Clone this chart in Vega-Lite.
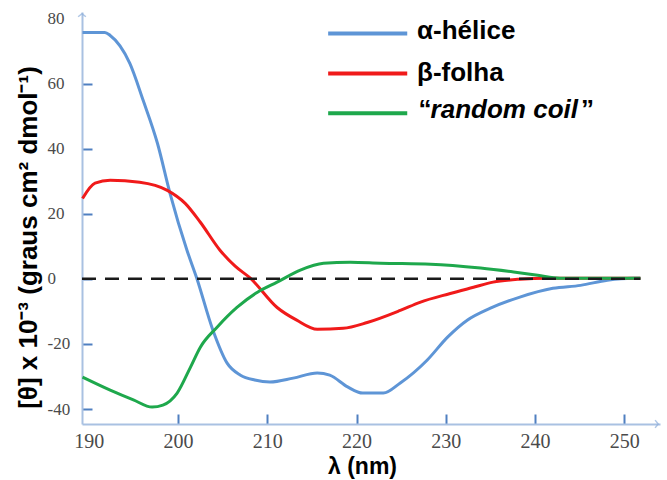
{
  "$schema": "https://vega.github.io/schema/vega-lite/v6.json",
  "width": 578,
  "height": 412,
  "autosize": {"type": "none"},
  "padding": {"left": 82, "top": 12, "right": 7, "bottom": 56},
  "background": "white",
  "config": {"view": {"stroke": null}, "axis": {"grid": false}},
  "datasets": {
    "one": [{}],
    "curves": [
      {"s": "α-hélice", "nm": 189.3, "v": 75.7},
      {"s": "α-hélice", "nm": 191.8, "v": 75.7},
      {"s": "α-hélice", "nm": 192.4, "v": 74.8},
      {"s": "α-hélice", "nm": 194.6, "v": 66.2},
      {"s": "α-hélice", "nm": 196.1, "v": 54.8},
      {"s": "α-hélice", "nm": 197.7, "v": 41.6},
      {"s": "α-hélice", "nm": 199.1, "v": 26.3},
      {"s": "α-hélice", "nm": 201.0, "v": 8.8},
      {"s": "α-hélice", "nm": 202.1, "v": 0.2},
      {"s": "α-hélice", "nm": 203.9, "v": -15.7},
      {"s": "α-hélice", "nm": 205.5, "v": -25.9},
      {"s": "α-hélice", "nm": 207.0, "v": -29.6},
      {"s": "α-hélice", "nm": 208.6, "v": -31.1},
      {"s": "α-hélice", "nm": 210.3, "v": -31.7},
      {"s": "α-hélice", "nm": 212.9, "v": -30.5},
      {"s": "α-hélice", "nm": 215.6, "v": -28.9},
      {"s": "α-hélice", "nm": 217.0, "v": -29.6},
      {"s": "α-hélice", "nm": 219.0, "v": -33.2},
      {"s": "α-hélice", "nm": 220.7, "v": -35.1},
      {"s": "α-hélice", "nm": 223.0, "v": -35.1},
      {"s": "α-hélice", "nm": 224.9, "v": -32.0},
      {"s": "α-hélice", "nm": 227.9, "v": -25.0},
      {"s": "α-hélice", "nm": 230.2, "v": -17.9},
      {"s": "α-hélice", "nm": 232.4, "v": -12.7},
      {"s": "α-hélice", "nm": 235.0, "v": -9.0},
      {"s": "α-hélice", "nm": 238.3, "v": -5.6},
      {"s": "α-hélice", "nm": 242.0, "v": -2.9},
      {"s": "α-hélice", "nm": 245.1, "v": -2.0},
      {"s": "α-hélice", "nm": 248.1, "v": -0.4},
      {"s": "α-hélice", "nm": 251.0, "v": 0.2},
      {"s": "α-hélice", "nm": 251.8, "v": 0.2},
      {"s": "β-folha", "nm": 189.3, "v": 24.7},
      {"s": "β-folha", "nm": 190.7, "v": 29.4},
      {"s": "β-folha", "nm": 192.4, "v": 30.3},
      {"s": "β-folha", "nm": 195.7, "v": 29.7},
      {"s": "β-folha", "nm": 198.8, "v": 27.2},
      {"s": "β-folha", "nm": 200.8, "v": 23.2},
      {"s": "β-folha", "nm": 202.5, "v": 17.4},
      {"s": "β-folha", "nm": 204.7, "v": 8.8},
      {"s": "β-folha", "nm": 206.4, "v": 3.9},
      {"s": "β-folha", "nm": 208.1, "v": 0.2},
      {"s": "β-folha", "nm": 211.1, "v": -8.8},
      {"s": "β-folha", "nm": 213.3, "v": -12.7},
      {"s": "β-folha", "nm": 215.6, "v": -15.5},
      {"s": "β-folha", "nm": 218.5, "v": -15.2},
      {"s": "β-folha", "nm": 221.2, "v": -13.4},
      {"s": "β-folha", "nm": 224.9, "v": -9.7},
      {"s": "β-folha", "nm": 227.1, "v": -7.2},
      {"s": "β-folha", "nm": 230.5, "v": -4.5},
      {"s": "β-folha", "nm": 233.1, "v": -2.6},
      {"s": "β-folha", "nm": 235.3, "v": -1.0},
      {"s": "β-folha", "nm": 238.3, "v": -0.1},
      {"s": "β-folha", "nm": 241.4, "v": 0.2},
      {"s": "β-folha", "nm": 251.8, "v": 0.2},
      {"s": "random coil", "nm": 189.3, "v": -30.2},
      {"s": "random coil", "nm": 192.4, "v": -34.2},
      {"s": "random coil", "nm": 195.0, "v": -37.2},
      {"s": "random coil", "nm": 197.1, "v": -39.4},
      {"s": "random coil", "nm": 198.3, "v": -38.8},
      {"s": "random coil", "nm": 199.9, "v": -35.1},
      {"s": "random coil", "nm": 201.4, "v": -27.1},
      {"s": "random coil", "nm": 202.5, "v": -21.0},
      {"s": "random coil", "nm": 204.4, "v": -14.8},
      {"s": "random coil", "nm": 206.6, "v": -8.8},
      {"s": "random coil", "nm": 208.9, "v": -4.1},
      {"s": "random coil", "nm": 211.1, "v": -1.0},
      {"s": "random coil", "nm": 213.7, "v": 2.7},
      {"s": "random coil", "nm": 216.3, "v": 4.8},
      {"s": "random coil", "nm": 219.3, "v": 5.1},
      {"s": "random coil", "nm": 222.7, "v": 4.8},
      {"s": "random coil", "nm": 228.3, "v": 4.5},
      {"s": "random coil", "nm": 233.9, "v": 3.3},
      {"s": "random coil", "nm": 237.6, "v": 2.1},
      {"s": "random coil", "nm": 240.3, "v": 1.1},
      {"s": "random coil", "nm": 242.8, "v": 0.2},
      {"s": "random coil", "nm": 251.8, "v": 0.2}
    ]
  },
  "layer": [
    {
      "data": {"name": "curves"},
      "mark": {"type": "line", "interpolate": "monotone", "strokeWidth": 3},
      "encoding": {
        "x": {
          "field": "nm", "type": "quantitative",
          "scale": {"domain": [189.24, 254], "nice": false, "zero": false},
          "axis": {
            "title": "λ (nm)",
            "values": [190, 200, 210, 220, 230, 240, 250],
            "domainColor": "#a9c1e2", "domainWidth": 2,
            "tickColor": "#4f7fc0", "tickWidth": 2, "tickSize": -10,
            "tickOpacity": {"condition": {"test": "datum.value == 190", "value": 0}, "value": 1},
            "labelFont": "Liberation Serif", "labelFontSize": 20, "labelColor": "#4a4a4a",
            "labelPadding": 17,
            "titleFont": "Liberation Sans", "titleFontSize": 23, "titleFontWeight": "bold", "titleColor": "#000000",
            "titleX": 280, "titleY": 42, "titleBaseline": "middle", "titleAlign": "center"
          }
        },
        "y": {
          "field": "v", "type": "quantitative",
          "scale": {"domain": [-44.6, 82], "nice": false, "zero": false},
          "axis": {
            "title": "[θ] x 10⁻³ (graus  cm² dmol⁻¹)",
            "values": [-40, -20, 0, 20, 40, 60, 80],
            "labelExpr": "replace(datum.label, '−', '-')",
            "domainColor": "#a9c1e2", "domainWidth": 2,
            "tickColor": "#4f7fc0", "tickWidth": 2, "tickSize": -10,
            "tickOpacity": {"condition": {"test": "datum.value == 80", "value": 0}, "value": 1},
            "labelFont": "Liberation Serif", "labelFontSize": 17, "labelColor": "#4a4a4a",
            "labelAlign": "left", "labelPadding": 45,
            "titleFont": "Liberation Sans", "titleFontSize": 26, "titleFontWeight": "bold", "titleColor": "#000000",
            "titleX": -54, "titleY": 225, "titleAngle": -90, "titleBaseline": "middle", "titleAlign": "center"
          }
        },
        "color": {
          "field": "s", "type": "nominal",
          "scale": {"domain": ["α-hélice", "β-folha", "random coil"], "range": ["#5e95d6", "#f01a1a", "#1ea84c"]},
          "legend": null
        }
      }
    },
    {
      "data": {"name": "one"},
      "mark": {"type": "rule", "strokeDash": [14, 9], "strokeWidth": 2.5, "color": "#1a1a1a"},
      "encoding": {"x": {"datum": 189.24}, "x2": {"datum": 251.8}, "y": {"datum": 0}}
    },
    {
      "data": {"name": "one"},
      "mark": {"type": "point", "shape": "M-1,0.8L0,0L1,0.8", "filled": false, "stroke": "#8fb0dc", "strokeWidth": 1.5, "size": 60},
      "encoding": {"x": {"datum": 189.24}, "y": {"datum": 81.5}}
    },
    {
      "data": {"name": "one"},
      "mark": {"type": "point", "shape": "M-0.8,-1L0,0L-0.8,1", "filled": false, "stroke": "#8fb0dc", "strokeWidth": 1.5, "size": 60},
      "encoding": {"x": {"datum": 253.8}, "y": {"datum": -44.6}}
    },
    {
      "data": {"name": "one"},
      "mark": {"type": "rule", "strokeWidth": 4, "color": "#5e95d6"},
      "encoding": {"x": {"datum": 216.82}, "x2": {"datum": 225.68}, "y": {"datum": 75.4}}
    },
    {
      "data": {"name": "one"},
      "mark": {"type": "rule", "strokeWidth": 4, "color": "#f01a1a"},
      "encoding": {"x": {"datum": 216.82}, "x2": {"datum": 225.68}, "y": {"datum": 63.1}}
    },
    {
      "data": {"name": "one"},
      "mark": {"type": "rule", "strokeWidth": 4, "color": "#1ea84c"},
      "encoding": {"x": {"datum": 216.82}, "x2": {"datum": 225.68}, "y": {"datum": 50.9}}
    },
    {
      "data": {"name": "one"},
      "mark": {"type": "text", "text": "α-hélice", "font": "Liberation Sans", "fontSize": 26, "fontWeight": "bold", "align": "left", "baseline": "middle", "color": "#000000"},
      "encoding": {"x": {"datum": 226.78}, "y": {"datum": 76.3}}
    },
    {
      "data": {"name": "one"},
      "mark": {"type": "text", "text": "β-folha", "font": "Liberation Sans", "fontSize": 26, "fontWeight": "bold", "align": "left", "baseline": "middle", "color": "#000000"},
      "encoding": {"x": {"datum": 226.78}, "y": {"datum": 63.4}}
    },
    {
      "data": {"name": "one"},
      "mark": {"type": "text", "text": "“", "font": "Liberation Sans", "fontSize": 26, "fontWeight": "bold", "align": "left", "baseline": "middle", "color": "#000000"},
      "encoding": {"x": {"datum": 226.95}, "y": {"datum": 51.8}}
    },
    {
      "data": {"name": "one"},
      "mark": {"type": "text", "text": "random coil", "font": "Liberation Sans", "fontSize": 26, "fontWeight": "bold", "fontStyle": "italic", "align": "left", "baseline": "middle", "color": "#000000"},
      "encoding": {"x": {"datum": 228.3}, "y": {"datum": 51.8}}
    },
    {
      "data": {"name": "one"},
      "mark": {"type": "text", "text": "”", "font": "Liberation Sans", "fontSize": 26, "fontWeight": "bold", "align": "left", "baseline": "middle", "color": "#000000"},
      "encoding": {"x": {"datum": 245.15}, "y": {"datum": 51.8}}
    }
  ]
}
